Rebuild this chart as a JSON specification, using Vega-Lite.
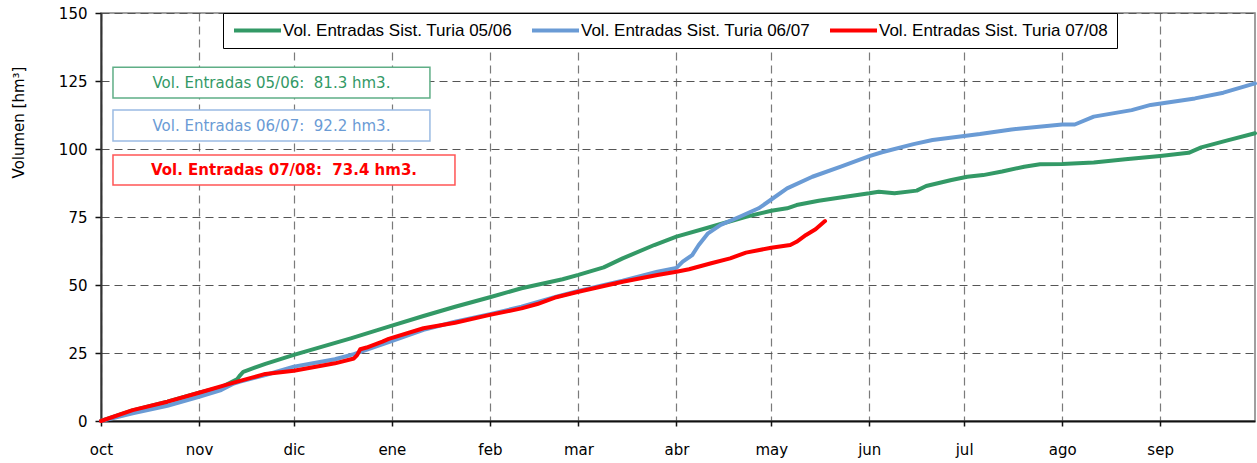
{
  "$schema": "https://vega.github.io/schema/vega-lite/v6.json",
  "width": 1154,
  "height": 408,
  "autosize": {"type": "none"},
  "padding": {"left": 101, "top": 13, "right": 2, "bottom": 42},
  "config": {
    "view": {"stroke": "#808080", "strokeWidth": 1.5},
    "font": "DejaVu Sans"
  },
  "layer": [
    {
      "data": {
        "values": [
          {"serie": "Vol. Entradas Sist. Turia 05/06", "fecha": "2006-10-01", "vol": 0},
          {"serie": "Vol. Entradas Sist. Turia 05/06", "fecha": "2006-10-11", "vol": 3.9},
          {"serie": "Vol. Entradas Sist. Turia 05/06", "fecha": "2006-10-22", "vol": 7.1},
          {"serie": "Vol. Entradas Sist. Turia 05/06", "fecha": "2006-11-01", "vol": 10.4},
          {"serie": "Vol. Entradas Sist. Turia 05/06", "fecha": "2006-11-08", "vol": 12.4},
          {"serie": "Vol. Entradas Sist. Turia 05/06", "fecha": "2006-11-13", "vol": 15.3},
          {"serie": "Vol. Entradas Sist. Turia 05/06", "fecha": "2006-11-14", "vol": 16.8},
          {"serie": "Vol. Entradas Sist. Turia 05/06", "fecha": "2006-11-15", "vol": 18.1},
          {"serie": "Vol. Entradas Sist. Turia 05/06", "fecha": "2006-11-22", "vol": 21.0},
          {"serie": "Vol. Entradas Sist. Turia 05/06", "fecha": "2006-12-01", "vol": 24.3},
          {"serie": "Vol. Entradas Sist. Turia 05/06", "fecha": "2006-12-19", "vol": 30.4},
          {"serie": "Vol. Entradas Sist. Turia 05/06", "fecha": "2006-12-31", "vol": 34.7},
          {"serie": "Vol. Entradas Sist. Turia 05/06", "fecha": "2007-01-11", "vol": 38.6},
          {"serie": "Vol. Entradas Sist. Turia 05/06", "fecha": "2007-01-21", "vol": 42.0},
          {"serie": "Vol. Entradas Sist. Turia 05/06", "fecha": "2007-02-01", "vol": 45.5},
          {"serie": "Vol. Entradas Sist. Turia 05/06", "fecha": "2007-02-11", "vol": 48.8},
          {"serie": "Vol. Entradas Sist. Turia 05/06", "fecha": "2007-02-24", "vol": 52.1},
          {"serie": "Vol. Entradas Sist. Turia 05/06", "fecha": "2007-03-01", "vol": 53.7},
          {"serie": "Vol. Entradas Sist. Turia 05/06", "fecha": "2007-03-09", "vol": 56.5},
          {"serie": "Vol. Entradas Sist. Turia 05/06", "fecha": "2007-03-15", "vol": 59.8},
          {"serie": "Vol. Entradas Sist. Turia 05/06", "fecha": "2007-03-25", "vol": 64.7},
          {"serie": "Vol. Entradas Sist. Turia 05/06", "fecha": "2007-04-01", "vol": 67.8},
          {"serie": "Vol. Entradas Sist. Turia 05/06", "fecha": "2007-04-12", "vol": 71.4},
          {"serie": "Vol. Entradas Sist. Turia 05/06", "fecha": "2007-04-23", "vol": 75.1},
          {"serie": "Vol. Entradas Sist. Turia 05/06", "fecha": "2007-05-01", "vol": 77.3},
          {"serie": "Vol. Entradas Sist. Turia 05/06", "fecha": "2007-05-06", "vol": 78.2},
          {"serie": "Vol. Entradas Sist. Turia 05/06", "fecha": "2007-05-09", "vol": 79.4},
          {"serie": "Vol. Entradas Sist. Turia 05/06", "fecha": "2007-05-16", "vol": 81.0},
          {"serie": "Vol. Entradas Sist. Turia 05/06", "fecha": "2007-05-25", "vol": 82.5},
          {"serie": "Vol. Entradas Sist. Turia 05/06", "fecha": "2007-06-01", "vol": 83.7},
          {"serie": "Vol. Entradas Sist. Turia 05/06", "fecha": "2007-06-04", "vol": 84.3},
          {"serie": "Vol. Entradas Sist. Turia 05/06", "fecha": "2007-06-09", "vol": 83.7},
          {"serie": "Vol. Entradas Sist. Turia 05/06", "fecha": "2007-06-16", "vol": 84.7},
          {"serie": "Vol. Entradas Sist. Turia 05/06", "fecha": "2007-06-19", "vol": 86.4},
          {"serie": "Vol. Entradas Sist. Turia 05/06", "fecha": "2007-06-27", "vol": 88.6},
          {"serie": "Vol. Entradas Sist. Turia 05/06", "fecha": "2007-07-02", "vol": 89.8},
          {"serie": "Vol. Entradas Sist. Turia 05/06", "fecha": "2007-07-07", "vol": 90.4},
          {"serie": "Vol. Entradas Sist. Turia 05/06", "fecha": "2007-07-13", "vol": 91.7},
          {"serie": "Vol. Entradas Sist. Turia 05/06", "fecha": "2007-07-20", "vol": 93.5},
          {"serie": "Vol. Entradas Sist. Turia 05/06", "fecha": "2007-07-25", "vol": 94.4},
          {"serie": "Vol. Entradas Sist. Turia 05/06", "fecha": "2007-08-01", "vol": 94.5},
          {"serie": "Vol. Entradas Sist. Turia 05/06", "fecha": "2007-08-11", "vol": 95.0},
          {"serie": "Vol. Entradas Sist. Turia 05/06", "fecha": "2007-08-21", "vol": 96.2},
          {"serie": "Vol. Entradas Sist. Turia 05/06", "fecha": "2007-09-01", "vol": 97.4},
          {"serie": "Vol. Entradas Sist. Turia 05/06", "fecha": "2007-09-10", "vol": 98.6},
          {"serie": "Vol. Entradas Sist. Turia 05/06", "fecha": "2007-09-14", "vol": 100.6},
          {"serie": "Vol. Entradas Sist. Turia 05/06", "fecha": "2007-09-22", "vol": 103.1},
          {"serie": "Vol. Entradas Sist. Turia 05/06", "fecha": "2007-10-01", "vol": 105.8},

          {"serie": "Vol. Entradas Sist. Turia 06/07", "fecha": "2006-10-01", "vol": 0},
          {"serie": "Vol. Entradas Sist. Turia 06/07", "fecha": "2006-10-11", "vol": 2.8},
          {"serie": "Vol. Entradas Sist. Turia 06/07", "fecha": "2006-10-22", "vol": 5.6},
          {"serie": "Vol. Entradas Sist. Turia 06/07", "fecha": "2006-11-01", "vol": 8.9},
          {"serie": "Vol. Entradas Sist. Turia 06/07", "fecha": "2006-11-08", "vol": 11.4},
          {"serie": "Vol. Entradas Sist. Turia 06/07", "fecha": "2006-11-12", "vol": 13.8},
          {"serie": "Vol. Entradas Sist. Turia 06/07", "fecha": "2006-11-14", "vol": 14.5},
          {"serie": "Vol. Entradas Sist. Turia 06/07", "fecha": "2006-11-22", "vol": 16.9},
          {"serie": "Vol. Entradas Sist. Turia 06/07", "fecha": "2006-12-01", "vol": 20.0},
          {"serie": "Vol. Entradas Sist. Turia 06/07", "fecha": "2006-12-14", "vol": 22.7},
          {"serie": "Vol. Entradas Sist. Turia 06/07", "fecha": "2006-12-20", "vol": 24.6},
          {"serie": "Vol. Entradas Sist. Turia 06/07", "fecha": "2006-12-31", "vol": 29.0},
          {"serie": "Vol. Entradas Sist. Turia 06/07", "fecha": "2007-01-11", "vol": 33.5},
          {"serie": "Vol. Entradas Sist. Turia 06/07", "fecha": "2007-01-21", "vol": 36.5},
          {"serie": "Vol. Entradas Sist. Turia 06/07", "fecha": "2007-02-01", "vol": 39.3},
          {"serie": "Vol. Entradas Sist. Turia 06/07", "fecha": "2007-02-11", "vol": 42.0},
          {"serie": "Vol. Entradas Sist. Turia 06/07", "fecha": "2007-02-22", "vol": 45.7},
          {"serie": "Vol. Entradas Sist. Turia 06/07", "fecha": "2007-03-01", "vol": 47.8},
          {"serie": "Vol. Entradas Sist. Turia 06/07", "fecha": "2007-03-15", "vol": 51.6},
          {"serie": "Vol. Entradas Sist. Turia 06/07", "fecha": "2007-03-26", "vol": 54.9},
          {"serie": "Vol. Entradas Sist. Turia 06/07", "fecha": "2007-04-01", "vol": 56.3},
          {"serie": "Vol. Entradas Sist. Turia 06/07", "fecha": "2007-04-03", "vol": 58.6},
          {"serie": "Vol. Entradas Sist. Turia 06/07", "fecha": "2007-04-06", "vol": 61.0},
          {"serie": "Vol. Entradas Sist. Turia 06/07", "fecha": "2007-04-08", "vol": 64.6},
          {"serie": "Vol. Entradas Sist. Turia 06/07", "fecha": "2007-04-11", "vol": 69.0},
          {"serie": "Vol. Entradas Sist. Turia 06/07", "fecha": "2007-04-15", "vol": 72.1},
          {"serie": "Vol. Entradas Sist. Turia 06/07", "fecha": "2007-04-21", "vol": 75.1},
          {"serie": "Vol. Entradas Sist. Turia 06/07", "fecha": "2007-04-27", "vol": 78.2},
          {"serie": "Vol. Entradas Sist. Turia 06/07", "fecha": "2007-04-30", "vol": 80.6},
          {"serie": "Vol. Entradas Sist. Turia 06/07", "fecha": "2007-05-06", "vol": 85.5},
          {"serie": "Vol. Entradas Sist. Turia 06/07", "fecha": "2007-05-14", "vol": 89.8},
          {"serie": "Vol. Entradas Sist. Turia 06/07", "fecha": "2007-05-23", "vol": 93.5},
          {"serie": "Vol. Entradas Sist. Turia 06/07", "fecha": "2007-06-01", "vol": 97.4},
          {"serie": "Vol. Entradas Sist. Turia 06/07", "fecha": "2007-06-05", "vol": 98.8},
          {"serie": "Vol. Entradas Sist. Turia 06/07", "fecha": "2007-06-15", "vol": 101.8},
          {"serie": "Vol. Entradas Sist. Turia 06/07", "fecha": "2007-06-21", "vol": 103.3},
          {"serie": "Vol. Entradas Sist. Turia 06/07", "fecha": "2007-07-01", "vol": 104.8},
          {"serie": "Vol. Entradas Sist. Turia 06/07", "fecha": "2007-07-06", "vol": 105.5},
          {"serie": "Vol. Entradas Sist. Turia 06/07", "fecha": "2007-07-16", "vol": 107.2},
          {"serie": "Vol. Entradas Sist. Turia 06/07", "fecha": "2007-08-01", "vol": 109.0},
          {"serie": "Vol. Entradas Sist. Turia 06/07", "fecha": "2007-08-05", "vol": 109.0},
          {"serie": "Vol. Entradas Sist. Turia 06/07", "fecha": "2007-08-11", "vol": 111.9},
          {"serie": "Vol. Entradas Sist. Turia 06/07", "fecha": "2007-08-23", "vol": 114.3},
          {"serie": "Vol. Entradas Sist. Turia 06/07", "fecha": "2007-08-29", "vol": 116.2},
          {"serie": "Vol. Entradas Sist. Turia 06/07", "fecha": "2007-09-12", "vol": 118.6},
          {"serie": "Vol. Entradas Sist. Turia 06/07", "fecha": "2007-09-21", "vol": 120.7},
          {"serie": "Vol. Entradas Sist. Turia 06/07", "fecha": "2007-10-01", "vol": 124.1},

          {"serie": "Vol. Entradas Sist. Turia 07/08", "fecha": "2006-10-01", "vol": 0},
          {"serie": "Vol. Entradas Sist. Turia 07/08", "fecha": "2006-10-11", "vol": 4.0},
          {"serie": "Vol. Entradas Sist. Turia 07/08", "fecha": "2006-10-22", "vol": 7.1},
          {"serie": "Vol. Entradas Sist. Turia 07/08", "fecha": "2006-11-01", "vol": 10.4},
          {"serie": "Vol. Entradas Sist. Turia 07/08", "fecha": "2006-11-12", "vol": 14.1},
          {"serie": "Vol. Entradas Sist. Turia 07/08", "fecha": "2006-11-22", "vol": 17.3},
          {"serie": "Vol. Entradas Sist. Turia 07/08", "fecha": "2006-12-01", "vol": 18.5},
          {"serie": "Vol. Entradas Sist. Turia 07/08", "fecha": "2006-12-14", "vol": 21.2},
          {"serie": "Vol. Entradas Sist. Turia 07/08", "fecha": "2006-12-20", "vol": 23.0},
          {"serie": "Vol. Entradas Sist. Turia 07/08", "fecha": "2006-12-21", "vol": 24.2},
          {"serie": "Vol. Entradas Sist. Turia 07/08", "fecha": "2006-12-22", "vol": 26.4},
          {"serie": "Vol. Entradas Sist. Turia 07/08", "fecha": "2006-12-24", "vol": 27.0},
          {"serie": "Vol. Entradas Sist. Turia 07/08", "fecha": "2006-12-29", "vol": 29.2},
          {"serie": "Vol. Entradas Sist. Turia 07/08", "fecha": "2006-12-31", "vol": 30.2},
          {"serie": "Vol. Entradas Sist. Turia 07/08", "fecha": "2007-01-11", "vol": 34.1},
          {"serie": "Vol. Entradas Sist. Turia 07/08", "fecha": "2007-01-21", "vol": 36.1},
          {"serie": "Vol. Entradas Sist. Turia 07/08", "fecha": "2007-02-01", "vol": 39.0},
          {"serie": "Vol. Entradas Sist. Turia 07/08", "fecha": "2007-02-11", "vol": 41.4},
          {"serie": "Vol. Entradas Sist. Turia 07/08", "fecha": "2007-02-16", "vol": 43.0},
          {"serie": "Vol. Entradas Sist. Turia 07/08", "fecha": "2007-02-22", "vol": 45.5},
          {"serie": "Vol. Entradas Sist. Turia 07/08", "fecha": "2007-03-01", "vol": 47.5},
          {"serie": "Vol. Entradas Sist. Turia 07/08", "fecha": "2007-03-15", "vol": 51.2},
          {"serie": "Vol. Entradas Sist. Turia 07/08", "fecha": "2007-03-26", "vol": 53.7},
          {"serie": "Vol. Entradas Sist. Turia 07/08", "fecha": "2007-04-01", "vol": 54.9},
          {"serie": "Vol. Entradas Sist. Turia 07/08", "fecha": "2007-04-05", "vol": 55.8},
          {"serie": "Vol. Entradas Sist. Turia 07/08", "fecha": "2007-04-12", "vol": 58.0},
          {"serie": "Vol. Entradas Sist. Turia 07/08", "fecha": "2007-04-18", "vol": 59.8},
          {"serie": "Vol. Entradas Sist. Turia 07/08", "fecha": "2007-04-23", "vol": 61.9},
          {"serie": "Vol. Entradas Sist. Turia 07/08", "fecha": "2007-05-01", "vol": 63.7},
          {"serie": "Vol. Entradas Sist. Turia 07/08", "fecha": "2007-05-07", "vol": 64.7},
          {"serie": "Vol. Entradas Sist. Turia 07/08", "fecha": "2007-05-09", "vol": 65.9},
          {"serie": "Vol. Entradas Sist. Turia 07/08", "fecha": "2007-05-12", "vol": 68.4},
          {"serie": "Vol. Entradas Sist. Turia 07/08", "fecha": "2007-05-15", "vol": 70.5},
          {"serie": "Vol. Entradas Sist. Turia 07/08", "fecha": "2007-05-18", "vol": 73.5}
        ]
      },
      "mark": {"type": "line", "strokeWidth": 4, "strokeCap": "round", "strokeJoin": "round"},
      "encoding": {
        "x": {
          "field": "fecha",
          "type": "temporal",
          "scale": {
            "type": "utc",
            "nice": false,
            "domain": [
              {"year": 2006, "month": "oct", "date": 1, "utc": true},
              {"year": 2007, "month": "oct", "date": 1, "utc": true}
            ]
          },
          "axis": {
            "title": null,
            "values": [
              {"year": 2006, "month": "oct", "date": 1, "utc": true},
              {"year": 2006, "month": "nov", "date": 1, "utc": true},
              {"year": 2006, "month": "dec", "date": 1, "utc": true},
              {"year": 2007, "month": "jan", "date": 1, "utc": true},
              {"year": 2007, "month": "feb", "date": 1, "utc": true},
              {"year": 2007, "month": "mar", "date": 1, "utc": true},
              {"year": 2007, "month": "apr", "date": 1, "utc": true},
              {"year": 2007, "month": "may", "date": 1, "utc": true},
              {"year": 2007, "month": "jun", "date": 1, "utc": true},
              {"year": 2007, "month": "jul", "date": 1, "utc": true},
              {"year": 2007, "month": "aug", "date": 1, "utc": true},
              {"year": 2007, "month": "sep", "date": 1, "utc": true}
            ],
            "labelExpr": "['ene','feb','mar','abr','may','jun','jul','ago','sep','oct','nov','dic'][utcmonth(datum.value)]",
            "labelFlush": false,
            "labelOverlap": false,
            "labelFont": "DejaVu Sans",
            "labelFontSize": 15,
            "labelColor": "black",
            "labelPadding": 16,
            "ticks": true,
            "tickSize": 5,
            "tickColor": "#111111",
            "tickWidth": 1.5,
            "grid": true,
            "gridColor": "#7a7a7a",
            "gridDash": [8, 5],
            "gridWidth": 1.2,
            "domainColor": "#111111",
            "domainWidth": 2
          }
        },
        "y": {
          "field": "vol",
          "type": "quantitative",
          "scale": {"domain": [0, 150], "nice": false},
          "axis": {
            "values": [0, 25, 50, 75, 100, 125, 150],
            "title": "Volumen [hm³]",
            "titleFont": "DejaVu Sans",
            "titleFontSize": 15,
            "titleFontWeight": "normal",
            "titleColor": "black",
            "titleAngle": 270,
            "titleX": -83,
            "titleY": 109,
            "titleAlign": "center",
            "titleBaseline": "middle",
            "labelFont": "DejaVu Sans",
            "labelFontSize": 15,
            "labelColor": "black",
            "labelPadding": 8,
            "tickColor": "#111111",
            "tickSize": 6,
            "tickWidth": 1.5,
            "grid": true,
            "gridColor": "#555555",
            "gridDash": [8, 5],
            "gridWidth": 1.2,
            "domainColor": "#333333",
            "domainWidth": 2
          }
        },
        "color": {
          "field": "serie",
          "type": "nominal",
          "scale": {
            "domain": ["Vol. Entradas Sist. Turia 05/06", "Vol. Entradas Sist. Turia 06/07", "Vol. Entradas Sist. Turia 07/08"],
            "range": ["#339966", "#6a9bd5", "#ff0000"]
          },
          "legend": {
            "title": null,
            "orient": "none",
            "legendX": 122,
            "legendY": 0,
            "direction": "horizontal",
            "symbolType": "stroke",
            "symbolStrokeWidth": 4,
            "symbolSize": 2209,
            "clipHeight": 17,
            "labelFont": "Liberation Sans",
            "labelFontSize": 17,
            "labelColor": "black",
            "labelOffset": 0,
            "labelLimit": 400,
            "columnPadding": 18,
            "padding": 9,
            "strokeColor": "black",
            "fillColor": "white"
          }
        }
      }
    },
    {
      "data": {"values": [{}]},
      "mark": {"type": "rect", "fill": "white", "stroke": "#5fae86", "strokeWidth": 1.5},
      "encoding": {
        "x": {"datum": {"year": 2006, "month": "oct", "date": 4, "hours": 19, "utc": true}, "type": "temporal"},
        "x2": {"datum": {"year": 2007, "month": "jan", "date": 13, "hours": 1, "utc": true}},
        "y": {"datum": 130.1, "type": "quantitative"},
        "y2": {"datum": 118.75}
      }
    },
    {
      "data": {"values": [{}]},
      "mark": {"type": "text", "text": "Vol. Entradas 05/06:\u00a0 81.3 hm3.", "font": "DejaVu Sans", "fontSize": 15, "color": "#339966", "align": "center", "baseline": "middle"},
      "encoding": {
        "x": {"datum": {"year": 2006, "month": "nov", "date": 23, "hours": 22, "utc": true}, "type": "temporal"},
        "y": {"datum": 124.4, "type": "quantitative"}
      }
    },
    {
      "data": {"values": [{}]},
      "mark": {"type": "rect", "fill": "white", "stroke": "#9bbbe3", "strokeWidth": 1.5},
      "encoding": {
        "x": {"datum": {"year": 2006, "month": "oct", "date": 4, "hours": 19, "utc": true}, "type": "temporal"},
        "x2": {"datum": {"year": 2007, "month": "jan", "date": 13, "hours": 1, "utc": true}},
        "y": {"datum": 114.3, "type": "quantitative"},
        "y2": {"datum": 102.9}
      }
    },
    {
      "data": {"values": [{}]},
      "mark": {"type": "text", "text": "Vol. Entradas 06/07:\u00a0 92.2 hm3.", "font": "DejaVu Sans", "fontSize": 15, "color": "#6a9bd5", "align": "center", "baseline": "middle"},
      "encoding": {
        "x": {"datum": {"year": 2006, "month": "nov", "date": 23, "hours": 22, "utc": true}, "type": "temporal"},
        "y": {"datum": 108.6, "type": "quantitative"}
      }
    },
    {
      "data": {"values": [{}]},
      "mark": {"type": "rect", "fill": "white", "stroke": "#ff5555", "strokeWidth": 1.5},
      "encoding": {
        "x": {"datum": {"year": 2006, "month": "oct", "date": 4, "hours": 19, "utc": true}, "type": "temporal"},
        "x2": {"datum": {"year": 2007, "month": "jan", "date": 20, "hours": 23, "utc": true}},
        "y": {"datum": 97.8, "type": "quantitative"},
        "y2": {"datum": 86.8}
      }
    },
    {
      "data": {"values": [{}]},
      "mark": {"type": "text", "text": "Vol. Entradas 07/08:\u00a0 73.4 hm3.", "font": "DejaVu Sans", "fontSize": 15, "fontWeight": "bold", "color": "#ff0000", "align": "center", "baseline": "middle"},
      "encoding": {
        "x": {"datum": {"year": 2006, "month": "nov", "date": 27, "hours": 21, "utc": true}, "type": "temporal"},
        "y": {"datum": 92.3, "type": "quantitative"}
      }
    }
  ]
}
